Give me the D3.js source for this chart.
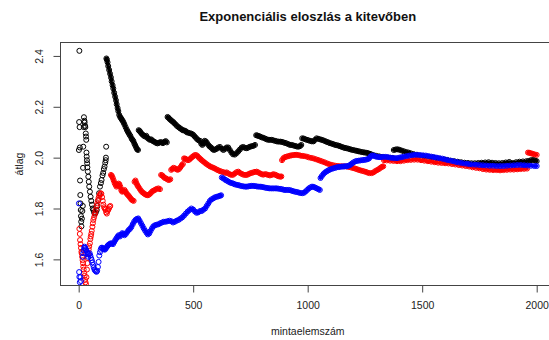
<!DOCTYPE html>
<html><head><meta charset="utf-8">
<script src="https://cdn.jsdelivr.net/npm/d3@7"></script>
<style>body{margin:0;background:#fff}svg{display:block}text{font-family:"Liberation Sans",Arial,sans-serif}</style>
</head><body><svg id="c" width="549" height="340"></svg>
<script>
const titleText = "Exponenciális eloszlás a kitevőben";
const xLabel = "mintaelemszám";
const yLabel = "átlag";
const xTicks = [0, 500, 1000, 1500, 2000];
const yTicks = [1.6, 1.8, 2.0, 2.2, 2.4];
const yTickLabels = ["1.6", "1.8", "2.0", "2.2", "2.4"];

// black series: [sample size, running mean]
const blackPts = [[1,2.03],[2,2.14],[3,2.42],[4,2.12],[5,2.04],[6,1.91],[7,1.853],[8,1.82],[9,1.794],[10,1.77],[11,1.748],[12,1.73],[14,1.76],[16,1.79],[18,1.81],[19,1.96],[20,2.043],[22,2.12],[23,2.159],[25,2.145],[26,2.138],[28,2.125],[29,2.12],[31,2.095],[32,2.083],[33,2.07],[34,2.02],[35,2.004],[36,1.99],[37,1.978],[38,1.962],[40,1.945],[42,1.925],[44,1.905],[46,1.886],[49,1.866],[52,1.846],[55,1.83],[58,1.815],[61,1.80],[64,1.794],[67,1.785],[71,1.78],[75,1.785],[79,1.794],[82,1.81],[86,1.833],[89,1.86],[93,1.886],[97,1.90],[100,1.912],[104,1.93],[107,1.94],[110,1.955],[113,1.965],[116,1.98],[118,1.99],[119,2.0],[120,2.043],
[121,2.39],[123,2.385],[126,2.375],[129,2.36],[133,2.345],[137,2.33],[141,2.315],[144,2.30],[148,2.285],[151,2.272],[155,2.255],[159,2.24],[163,2.225],[166,2.21],[170,2.195],[173,2.183],[177,2.168],[181,2.16],[185,2.155],[188,2.15],[192,2.145],[196,2.138],[200,2.13],[205,2.12],[210,2.11],[214,2.103],[218,2.097],[222,2.09],[226,2.085],[231,2.075],[235,2.07],[239,2.065],[243,2.055],[247,2.048],[251,2.04],[255,2.033],[259,2.03],
[262,2.108],[266,2.105],[270,2.1],[275,2.094],[280,2.09],[285,2.086],[290,2.083],[295,2.086],[300,2.078],[305,2.074],[311,2.07],[316,2.072],[321,2.068],[326,2.064],[332,2.062],[338,2.058],[344,2.056],[350,2.058],[356,2.061],[362,2.06],[368,2.057],[374,2.062],[380,2.065],[385,2.06],
[388,2.16],[392,2.157],[397,2.152],[402,2.148],[407,2.144],[413,2.14],[418,2.135],[424,2.13],[430,2.124],[436,2.12],[442,2.116],[448,2.112],[454,2.108],[460,2.107],[466,2.105],[472,2.10],[478,2.098],[486,2.096],[493,2.094],[500,2.09],[506,2.084],[512,2.078],[518,2.072],[524,2.068],[530,2.066],[535,2.055],[540,2.05],[545,2.056],[550,2.066],[555,2.064],[560,2.058],[566,2.05],[572,2.044],[578,2.04],[584,2.034],[590,2.03],[596,2.032],[603,2.035],[610,2.04],[617,2.042],[625,2.035],[632,2.03],[640,2.035],[646,2.04],[653,2.04],[660,2.03],[667,2.02],[674,2.013],[682,2.012],[690,2.018],[697,2.025],[704,2.032],[712,2.04],[719,2.042],[727,2.038],[734,2.037],[741,2.04],[748,2.043],[755,2.045],[762,2.046],[770,2.05],
[775,2.088],[780,2.087],[786,2.085],[792,2.083],[799,2.08],[806,2.078],[814,2.075],[821,2.072],[828,2.07],[835,2.07],[843,2.07],[850,2.068],[858,2.066],[865,2.064],[872,2.063],[880,2.063],[887,2.062],[894,2.06],[901,2.058],[908,2.056],[916,2.053],[923,2.05],[930,2.05],[937,2.048],[945,2.046],[952,2.044],[959,2.043],[966,2.045],[972,2.05],
[976,2.076],[983,2.075],[990,2.072],[997,2.07],[1004,2.068],[1011,2.066],[1018,2.064],[1025,2.064],[1032,2.07],[1039,2.076],[1046,2.074],[1054,2.072],[1061,2.07],[1068,2.068],[1076,2.065],[1083,2.062],[1090,2.06],[1097,2.057],[1105,2.055],[1112,2.053],[1120,2.05],[1127,2.049],[1135,2.047],[1141,2.045],[1149,2.042],[1156,2.04],[1163,2.038],[1170,2.037],[1178,2.035],[1185,2.033],[1192,2.031],[1199,2.03],[1207,2.028],[1214,2.027],[1221,2.025],[1228,2.024],[1236,2.022],[1243,2.021],[1250,2.02],[1258,2.019],[1265,2.017],[1272,2.015],[1280,2.012],[1290,2.009],[1300,2.007],[1312,2.005],[1325,2.003],[1338,2.001],[1350,2.0],[1362,1.999],[1372,1.998],
[1376,2.03],[1384,2.032],[1392,2.033],[1400,2.031],[1410,2.028],[1420,2.025],[1430,2.022],[1440,2.02],[1450,2.017],[1462,2.014],[1475,2.011],[1490,2.008],[1505,2.006],[1520,2.004],[1535,2.002],[1550,2.0],[1565,1.997],[1580,1.995],[1595,1.993],[1610,1.991],[1625,1.988],[1640,1.986],[1655,1.984],[1670,1.982],[1685,1.98],[1700,1.979],[1715,1.978],[1730,1.978],[1745,1.979],[1760,1.98],[1775,1.981],[1790,1.982],[1805,1.98],[1820,1.979],[1835,1.978],[1850,1.979],[1865,1.981],[1880,1.983],[1895,1.979],[1910,1.982],[1925,1.984],[1940,1.985],[1955,1.986],[1965,1.987],[1975,1.99],[1985,1.991],[1993,1.989],[2000,1.986]];
const blackJumps = [262, 388, 775, 976, 1376];
const blackBandFrom = 121;

// red series
const redPts = [[3,1.72],[5,1.70],[6,1.676],[8,1.66],[10,1.645],[12,1.63],[13,1.624],[15,1.61],[17,1.597],[19,1.585],[20,1.571],[22,1.56],[24,1.545],[26,1.535],[28,1.52],[30,1.51],[32,1.502],[34,1.53],[36,1.56],[38,1.585],[40,1.605],[42,1.624],[44,1.64],[46,1.652],[49,1.663],[51,1.68],[53,1.69],[55,1.70],[57,1.712],[60,1.728],[62,1.742],[64,1.755],[67,1.765],[70,1.775],[72,1.785],[75,1.795],[78,1.81],[81,1.82],[84,1.832],[87,1.842],[90,1.85],[93,1.855],[96,1.86],[99,1.858],[102,1.845],[105,1.83],[108,1.815],[111,1.805],[114,1.80],[117,1.795],[120,1.785],[123,1.78],[126,1.79],[129,1.795],[132,1.80],[135,1.807],[138,1.81],
[141,1.932],[145,1.928],[149,1.92],[153,1.91],[157,1.90],[161,1.893],[165,1.886],[170,1.89],[174,1.898],[178,1.895],[182,1.885],[186,1.872],[190,1.866],[195,1.868],[200,1.873],[205,1.866],[210,1.858],[215,1.853],[220,1.848],[225,1.842],[230,1.836],[235,1.832],[240,1.83],
[244,1.905],[248,1.91],[252,1.9],[256,1.892],[260,1.886],[266,1.878],[272,1.87],[278,1.864],[284,1.86],[290,1.856],[296,1.853],[302,1.852],[308,1.855],[314,1.86],[320,1.866],[326,1.87],[333,1.873],[340,1.877],[348,1.879],[355,1.876],
[360,1.932],[365,1.93],[370,1.925],[376,1.92],[382,1.918],[388,1.914],[394,1.912],[400,1.915],
[404,1.952],[409,1.956],[414,1.96],[420,1.958],[426,1.955],[432,1.952],[438,1.955],[444,1.962],[450,1.97],[455,1.975],
[460,1.997],[465,1.996],[471,1.993],[477,1.99],[483,1.992],[489,1.997],[495,2.002],[501,2.006],[507,2.01],[513,2.01],[519,2.006],[525,2.0],[531,1.995],[537,1.99],[544,1.985],[551,1.98],[558,1.975],[566,1.97],[573,1.966],[580,1.963],[588,1.96],[595,1.957],[603,1.953],[610,1.95],[617,1.947],[624,1.945],[632,1.943],[640,1.94],[646,1.942],[653,1.938],[661,1.934],[668,1.932],[675,1.933],[682,1.938],[690,1.943],[697,1.945],[704,1.94],[712,1.936],[719,1.933],[727,1.932],[734,1.932],[741,1.935],[748,1.938],[755,1.94],[762,1.942],[770,1.944],[777,1.945],[784,1.942],[792,1.938],[799,1.935],[806,1.933],[814,1.935],[821,1.934],[828,1.932],[835,1.93],[843,1.932],[850,1.935],[858,1.933],[865,1.93],[872,1.927],[880,1.925],[885,1.926],
[888,1.99],[894,1.998],[901,2.002],[908,2.004],[916,2.006],[923,2.008],[930,2.009],[937,2.01],[945,2.011],[952,2.011],[960,2.01],[968,2.008],[976,2.007],[985,2.006],[996,2.004],[1005,2.001],[1015,1.999],[1025,1.997],[1035,1.994],[1045,1.991],[1054,1.988],[1063,1.985],[1073,1.982],[1083,1.978],[1092,1.975],[1102,1.972],[1112,1.97],[1122,1.968],[1132,1.967],[1141,1.966],[1150,1.966],[1160,1.966],[1170,1.965],[1180,1.963],[1190,1.961],[1199,1.959],[1207,1.957],[1214,1.955],[1222,1.952],[1230,1.95],[1238,1.948],[1246,1.946],[1254,1.944],[1262,1.941],[1270,1.939],[1279,1.939],[1287,1.942],[1295,1.947],[1303,1.951],[1311,1.955],[1318,1.96],[1325,1.964],[1330,1.966],
[1333,1.99],[1345,1.989],[1360,1.988],[1375,1.987],[1390,1.986],[1405,1.986],[1420,1.988],[1435,1.99],[1450,1.991],[1465,1.992],[1480,1.992],[1495,1.99],[1510,1.988],[1525,1.986],[1540,1.984],[1555,1.982],[1570,1.98],[1585,1.979],[1600,1.978],[1615,1.977],[1630,1.975],[1645,1.973],[1660,1.971],[1675,1.969],[1690,1.967],[1705,1.965],[1720,1.962],[1735,1.96],[1750,1.958],[1765,1.955],[1780,1.953],[1795,1.952],[1810,1.951],[1825,1.951],[1840,1.95],[1855,1.951],[1870,1.952],[1885,1.953],[1900,1.953],[1915,1.954],[1930,1.955],[1945,1.956],[1958,1.957],
[1962,2.02],[1968,2.019],[1975,2.017],[1982,2.015],[1990,2.013],[2000,2.011]];
const redJumps = [244, 360, 404, 460, 888, 1333, 1962];
const redBandFrom = 141;

// blue series
const bluePts = [[1,1.82],[2,1.55],[3,1.531],[5,1.51],[8,1.53],[10,1.515],[18,1.61],[20,1.624],[22,1.635],[24,1.645],[26,1.65],[28,1.645],[30,1.64],[33,1.637],[36,1.63],[39,1.62],[42,1.61],[45,1.62],[48,1.624],[51,1.615],[54,1.605],[57,1.597],[60,1.588],[63,1.578],[66,1.568],[69,1.56],[72,1.556],[75,1.553],[78,1.551],[81,1.555],[84,1.57],[87,1.59],[90,1.615],[93,1.628],[96,1.638],[99,1.645],
[102,1.646],[106,1.643],[110,1.64],[114,1.638],[118,1.642],[122,1.648],[126,1.653],[130,1.657],[135,1.66],[140,1.663],[145,1.662],[150,1.66],[155,1.668],[160,1.676],[165,1.683],[170,1.69],[175,1.695],[180,1.69],[185,1.697],[190,1.703],[195,1.70],[200,1.695],[206,1.70],[212,1.708],[218,1.715],[224,1.72],[230,1.727],[236,1.738],[242,1.748],[248,1.755],[254,1.759],[260,1.761],[266,1.752],[272,1.742],[278,1.732],[284,1.722],[290,1.713],[296,1.705],[302,1.698],[308,1.702],[314,1.712],[320,1.722],[326,1.73],[333,1.734],[340,1.736],[348,1.738],[356,1.742],[364,1.745],[372,1.748],[380,1.748],[388,1.75],[396,1.752],[404,1.75],[412,1.745],[420,1.748],[428,1.752],[436,1.755],[444,1.76],[452,1.765],[460,1.772],[468,1.78],[476,1.788],[484,1.794],[492,1.80],[500,1.796],[508,1.788],[515,1.783],[522,1.785],[530,1.79],[537,1.79],[544,1.795],[552,1.80],[559,1.81],[566,1.82],[573,1.83],[580,1.836],[588,1.84],[595,1.844],[603,1.846],[610,1.848],[617,1.85],[622,1.852],
[625,1.922],[632,1.918],[640,1.913],[646,1.91],[653,1.906],[661,1.902],[668,1.9],[675,1.898],[682,1.895],[690,1.893],[697,1.892],[704,1.89],[712,1.888],[719,1.887],[727,1.886],[734,1.886],[741,1.887],[748,1.888],[755,1.889],[762,1.889],[770,1.888],[777,1.887],[784,1.886],[792,1.886],[799,1.885],[806,1.884],[814,1.882],[821,1.881],[828,1.88],[835,1.879],[843,1.879],[850,1.879],[858,1.879],[865,1.879],[872,1.878],[880,1.877],[887,1.876],[894,1.874],[901,1.873],[908,1.873],[916,1.873],[923,1.872],[930,1.87],[937,1.868],[945,1.866],[952,1.865],[960,1.863],[968,1.861],[976,1.86],[984,1.862],[991,1.867],[998,1.873],[1005,1.879],[1012,1.883],[1019,1.886],[1026,1.885],[1033,1.882],[1040,1.879],[1047,1.876],[1053,1.873],
[1056,1.92],[1062,1.928],[1069,1.936],[1076,1.942],[1083,1.946],[1090,1.95],[1097,1.953],[1105,1.956],[1112,1.958],[1120,1.96],[1127,1.962],[1135,1.963],[1141,1.964],[1149,1.965],[1156,1.965],[1163,1.966],[1170,1.966],[1178,1.968],[1185,1.971],[1192,1.976],[1199,1.981],[1207,1.985],[1214,1.987],[1222,1.988],[1230,1.989],[1238,1.99],[1246,1.991],[1254,1.992],[1262,1.994],[1268,1.997],[1274,2.004],[1280,2.008],[1287,2.008],[1295,2.005],[1303,2.003],[1312,2.002],[1320,2.002],[1330,2.003],[1340,2.003],[1350,2.002],[1360,2.0],[1370,1.999],[1380,1.998],[1390,1.998],[1400,2.0],[1410,2.002],[1420,2.004],[1432,2.006],[1444,2.008],[1456,2.01],[1468,2.011],[1480,2.011],[1492,2.01],[1504,2.009],[1516,2.008],[1528,2.006],[1540,2.004],[1552,2.002],[1564,2.0],[1576,1.998],[1588,1.996],[1600,1.993],[1612,1.99],[1624,1.988],[1636,1.986],[1648,1.983],[1660,1.981],[1672,1.979],[1684,1.977],[1696,1.976],[1708,1.974],[1720,1.973],[1735,1.972],[1750,1.971],[1765,1.97],[1780,1.969],[1795,1.968],[1810,1.968],[1825,1.967],[1840,1.967],[1855,1.967],[1870,1.968],[1885,1.969],[1900,1.97],[1915,1.971],[1930,1.971],[1945,1.97],[1960,1.969],[1975,1.968],[1990,1.967],[2000,1.967]];
const blueJumps = [625, 1056];
const blueBandFrom = 102;

const svg = d3.select("#c");
const L = 60.6, R = 555, T = 42.7, B = 285.3;
const x = d3.scaleLinear().domain([-78.96, 2079.96]).range([L, R]);
const y = d3.scaleLinear().domain([1.498, 2.452]).range([B, T]);

svg.append("clipPath").attr("id", "clip").append("rect")
  .attr("x", L).attr("y", T).attr("width", R - L).attr("height", B - T);

const series = [
  {pts: blackPts, jumps: blackJumps, from: blackBandFrom, color: "#000000"},
  {pts: redPts, jumps: redJumps, from: redBandFrom, color: "#ff0000"},
  {pts: bluePts, jumps: blueJumps, from: blueBandFrom, color: "#0000ff"}
];
const line = d3.line().x(d => x(d[0])).y(d => y(d[1]));
const plot = svg.append("g").attr("clip-path", "url(#clip)");
series.forEach(s => {
  const segs = []; let cur = null;
  s.pts.forEach(p => {
    if (p[0] < s.from) return;
    if (!cur || s.jumps.includes(p[0])) { cur = []; segs.push(cur); }
    cur.push(p);
  });
  const g = plot.append("g");
  g.selectAll("path").data(segs).enter().append("path")
    .attr("d", line).attr("fill", "none").attr("stroke", s.color)
    .attr("stroke-width", 3.6).attr("stroke-linejoin", "round").attr("stroke-linecap", "round");
  g.selectAll("circle").data(s.pts).enter().append("circle")
    .attr("cx", d => x(d[0])).attr("cy", d => y(d[1])).attr("r", 2.5)
    .attr("fill", "none").attr("stroke", s.color).attr("stroke-width", 1);
});

// box
svg.append("rect").attr("x", 60.5).attr("y", 42.5).attr("width", 600).attr("height", 243)
  .attr("fill", "none").attr("stroke", "#444").attr("stroke-width", 1);

// x axis
const xa = svg.append("g").attr("transform", "translate(0,285.5)")
  .call(d3.axisBottom(x).tickValues(xTicks).tickSize(7).tickPadding(9).tickFormat(d3.format("d")));
xa.select(".domain").remove();
xa.attr("color", "#444");
xa.selectAll("text").attr("fill", "#222").style("font-size", "10.5px").style("font-family", '"Liberation Sans",Arial,sans-serif');

// y axis
const ya = svg.append("g").attr("transform", "translate(60.5,0)")
  .call(d3.axisLeft(y).tickValues(yTicks).tickSize(7).tickFormat((d, i) => yTickLabels[i]));
ya.select(".domain").remove();
ya.attr("color", "#444");
ya.selectAll("text").attr("x", null).attr("dy", null).attr("text-anchor", "middle")
  .attr("transform", "translate(-17.2,0) rotate(-90)")
  .attr("fill", "#222").style("font-size", "10.5px").style("font-family", '"Liberation Sans",Arial,sans-serif');

// titles
const cx = (L + R) / 2;
svg.append("text").attr("x", cx).attr("y", 20.5).attr("text-anchor", "middle")
  .style("font-size", "13px").style("font-weight", "bold").attr("fill", "#111").text(titleText);
svg.append("text").attr("x", cx).attr("y", 335).attr("text-anchor", "middle")
  .style("font-size", "10.5px").attr("fill", "#222").text(xLabel);
svg.append("text").attr("transform", `translate(23,${(T + B) / 2}) rotate(-90)`).attr("text-anchor", "middle")
  .style("font-size", "10.5px").attr("fill", "#222").text(yLabel);
</script></body></html>
